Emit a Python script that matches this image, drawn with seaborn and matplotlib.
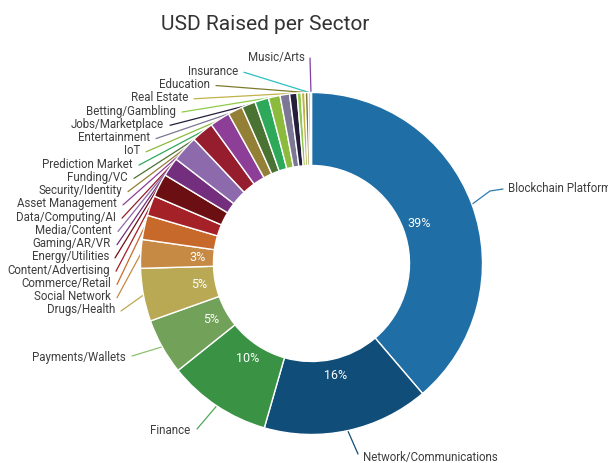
import numpy as np
import seaborn as sns
import matplotlib.pyplot as plt

# share of USD raised per sector (%), clockwise from 12 o'clock
sectors = ["Blockchain Platform", "Network/Communications", "Finance", "Payments/Wallets",
           "Drugs/Health", "Social Network", "Commerce/Retail", "Content/Advertising",
           "Energy/Utilities", "Gaming/AR/VR", "Media/Content", "Data/Computing/AI",
           "Asset Management", "Security/Identity", "Funding/VC", "Prediction Market",
           "IoT", "Entertainment", "Jobs/Marketplace", "Betting/Gambling",
           "Real Estate", "Education", "Insurance", "Music/Arts"]
shares = [38.75, 15.7, 9.8, 5.3, 5.0, 2.7, 2.3, 1.9, 2.2, 1.8, 2.5, 2.1,
          1.9, 1.4, 1.3, 1.3, 1.1, 0.9, 0.7, 0.4, 0.35, 0.3, 0.2, 0.1]
colors = ["#1f6ea6", "#104d78", "#3a9345", "#72a259", "#baa954", "#c68a45",
          "#c7692b", "#a32127", "#6c0f13", "#732f7d", "#8c6aab", "#961d2d",
          "#8d3f97", "#937f35", "#4a7232", "#2ea95a", "#8cba3d", "#7b7794",
          "#241d3b", "#8fcb4a", "#c3b24b", "#7c7a30", "#2bbfc0", "#7e40a1"]

sns.set_style("white")
plt.rcParams["font.family"] = ["Roboto", "DejaVu Sans"]

W, H = 608, 463
cx, cy, R, ring = 311.5, 263.5, 171, 73

fig = plt.figure(figsize=(W / 100, H / 100), dpi=100)
ax = fig.add_axes([0, 0, 1, 1])

wedges, _, pcts = ax.pie(
    shares, colors=colors, startangle=90, counterclock=False,
    center=(cx, H - cy), radius=R,
    wedgeprops=dict(width=ring, edgecolor="white", linewidth=1),
    autopct=lambda p: f"{p:.0f}%" if p > 2.6 else "",
    pctdistance=0.67, textprops=dict(color="white", fontsize=9))

ax.set_xlim(0, W)
ax.set_ylim(0, H)
ax.set_aspect("equal")
ax.axis("off")

# outer point at the middle of each slice (pixel coords, y down)
total = sum(shares)
mid = (np.cumsum(shares) - np.array(shares) / 2) / total * 2 * np.pi
px = cx + R * np.sin(mid)
py = cy - R * np.cos(mid)

label_kw = dict(fontsize=8.3, color="#3d3d3d", va="center")

# stacked labels on the left, from Music/Arts down to Drugs/Health
left_ends = [305, 238, 210, 188, 176, 164, 150, 140, 133, 128, 122, 117,
             116, 112, 111, 109, 110, 111, 111, 115]
left_idx = list(range(len(sectors) - 1, 3, -1))
left_y = np.linspace(58, 310, len(left_idx))
for k, i in enumerate(left_idx):
    tx, ty = left_ends[k], left_y[k]
    ax.text(tx, H - ty, sectors[i], ha="right", **label_kw)
    if i == len(sectors) - 1:
        ax.plot([tx + 5, px[i]], [H - ty, H - py[i]], color=colors[i], lw=0.9, zorder=0.5)
    else:
        ax.plot([tx + 6, px[i]], [H - ty - 1, H - py[i]], color=colors[i], lw=0.9, zorder=0.5)

# the four big slices keep their own labels
ax.text(508, H - 188, sectors[0], ha="left", **label_kw)
ax.plot([px[0], 490, 503], [H - py[0], H - 191, H - 189], color="#2b7bb4", lw=0.9, zorder=0.5)

ax.text(363, H - 457, sectors[1], ha="left", **label_kw)
ax.plot([px[1], 358], [H - py[1], H - 454], color=colors[1], lw=0.9, zorder=0.5)

ax.text(190, H - 430, sectors[2], ha="right", **label_kw)
ax.plot([197, px[2]], [H - 429, H - py[2]], color="#4fa85a", lw=0.9, zorder=0.5)

ax.text(126, H - 358, sectors[3], ha="right", **label_kw)
ax.plot([132, px[3]], [H - 356, H - py[3]], color="#8cc070", lw=0.9, zorder=0.5)

ax.text(265, H - 24, "USD Raised per Sector", ha="center", va="center",
        fontsize=15, color="#333333")

fig.savefig("out.png", dpi=100)
